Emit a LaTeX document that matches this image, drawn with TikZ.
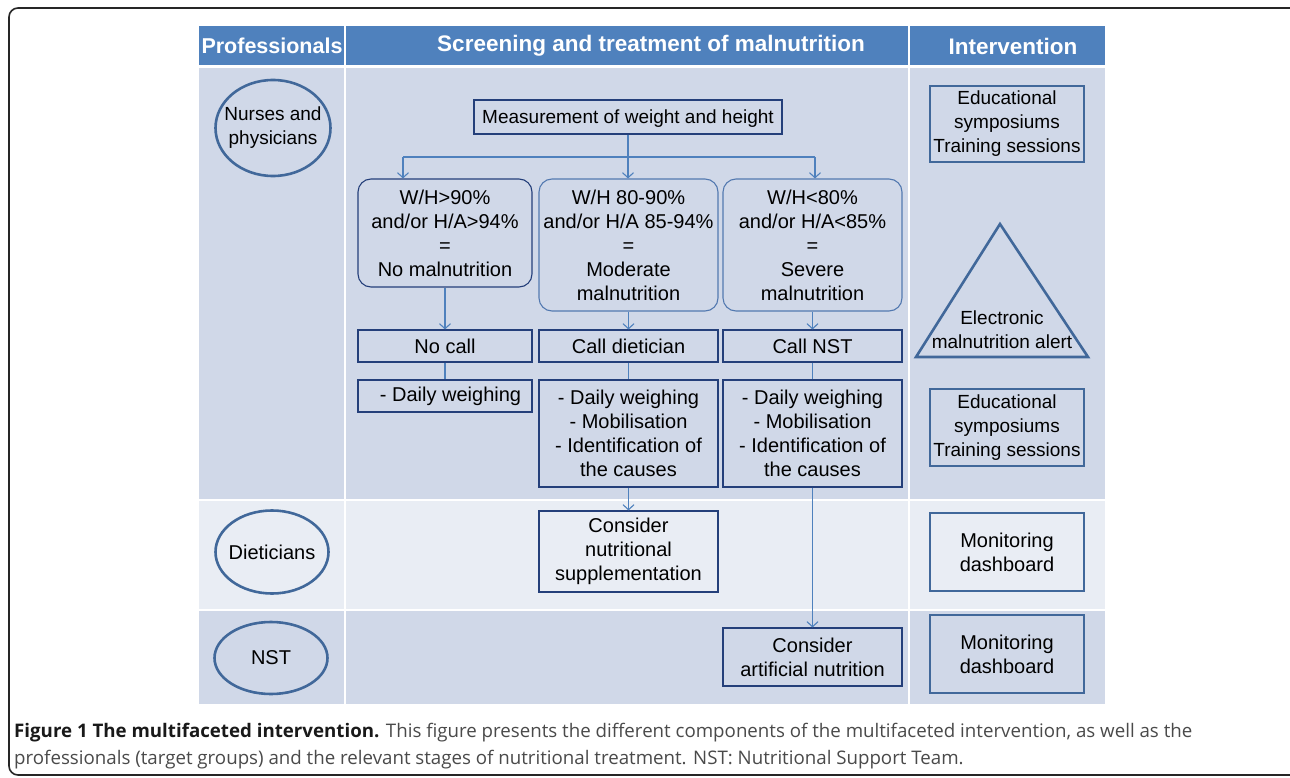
\documentclass[tikz,border=0pt]{standalone}
\usepackage{fontspec}
\setmainfont{Liberation Sans}
\newfontfamily\capfont{Open Sans}
\usetikzlibrary{shapes.geometric,arrows.meta}
\definecolor{hdr}{HTML}{4F81BD}
\definecolor{rowd}{HTML}{D0D8E8}
\definecolor{rowl}{HTML}{E9EDF4}
\definecolor{navy}{HTML}{243F7A}
\definecolor{lnav}{HTML}{5379B0}
\definecolor{arrc}{HTML}{4F81BD}
\definecolor{ibc}{HTML}{41689A}
\definecolor{capg}{HTML}{4A4A4A}
\tikzset{
  txt/.style={font=\fontsize{20}{24}\selectfont, align=center, inner sep=0pt},
  small/.style={font=\fontsize{19}{24}\selectfont},
  rbox/.style={txt, draw=navy, line width=1.1pt, rounded corners=13pt},
  lrbox/.style={txt, draw=lnav, line width=1.1pt, rounded corners=13pt},
  sbox/.style={txt, draw=navy, line width=1.1pt},
  ibox/.style={txt, draw=ibc, line width=2.6pt, minimum width=154pt},
  ell/.style={txt, ellipse, draw=ibc, line width=2.6pt, inner sep=0pt},
  arr/.style={draw=arrc, line width=1.1pt, -{Straight Barb[length=5pt,width=11pt,line width=1.1pt]}},
  lnk/.style={draw=arrc, line width=1.1pt},
  hd/.style={font=\fontsize{22.5}{24}\bfseries\selectfont, text=white, inner sep=0pt},
  capt/.style={anchor=base west, inner sep=0pt, font=\capfont\fontsize{18.7}{22}\selectfont, text=capg}
}
\begin{document}
\begin{tikzpicture}[x=1pt,y=-1pt]
\useasboundingbox (0,0) rectangle (1290,778);
\fill[white] (0,0) rectangle (1290,778);
% outer frame
\draw[line width=1.6pt, draw=black!85, rounded corners=9pt] (9,8) rectangle (1302,775);
% table cells
\fill[hdr] (199,26) rectangle (344,65);
\fill[hdr] (346,26) rectangle (908,65);
\fill[hdr] (910,26) rectangle (1105,65);
\fill[rowd] (199,68) rectangle (344,499);
\fill[rowd] (346,68) rectangle (908,499);
\fill[rowd] (910,68) rectangle (1105,499);
\fill[rowl] (199,501) rectangle (344,609);
\fill[rowl] (346,501) rectangle (908,609);
\fill[rowl] (910,501) rectangle (1105,609);
\fill[rowd] (199,611) rectangle (344,704);
\fill[rowd] (346,611) rectangle (908,704);
\fill[rowd] (910,611) rectangle (1105,704);
% headers
\node[hd, font=\fontsize{21.5}{24}\bfseries\selectfont] (h1) at (272,46) {Professionals};
\node[hd] (h2) at (651,46) {Screening and treatment of malnutrition};
\node[hd] (h3) at (1013,46) {Intervention};
% professionals
\node[ell, small, inner xsep=-9pt, minimum width=115pt, minimum height=96pt] (e1) at (273,128) {Nurses and\\physicians};
\node[ell, inner xsep=-5pt, minimum width=113pt, minimum height=83pt] (e2) at (272,552) {Dieticians};
\node[ell, minimum width=113pt, minimum height=72pt] (e3) at (271,658) {NST};
% flow
\node[sbox, small, minimum width=308pt, minimum height=34pt, text depth=1pt] (meas) at (628,117) {Measurement of weight and height};
\node[rbox, minimum width=174pt, minimum height=108pt] (c1) at (445,233) {W/H>90\%\\and/or H/A>94\%\\=\\No malnutrition};
\node[lrbox, minimum width=179pt, minimum height=132pt] (c2) at (628.5,245) {W/H 80-90\%\\and/or H/A 85-94\%\\=\\Moderate\\malnutrition};
\node[lrbox, minimum width=179pt, minimum height=132pt] (c3) at (812.5,245) {W/H<80\%\\and/or H/A<85\%\\=\\Severe\\malnutrition};
\node[sbox, minimum width=174pt, minimum height=32pt] (n1) at (445,346) {No call};
\node[sbox, minimum width=179pt, minimum height=32pt] (n2) at (628.5,346) {Call dietician};
\node[sbox, minimum width=179pt, minimum height=32pt] (n3) at (812.5,346) {Call NST};
\node[sbox, minimum width=174pt, minimum height=32pt] (d1) at (445,396) {\ \ - Daily weighing};
\node[sbox, minimum width=179pt, minimum height=107pt] (d2) at (628.5,433.5) {- Daily weighing\\- Mobilisation\\- Identification of\\the causes};
\node[sbox, minimum width=179pt, minimum height=107pt] (d3) at (812.5,433.5) {- Daily weighing\\- Mobilisation\\- Identification of\\the causes};
\node[sbox, minimum width=179pt, minimum height=81pt] (s1) at (628.5,551.5) {Consider\\nutritional\\supplementation};
\node[sbox, minimum width=179pt, minimum height=58pt] (s2) at (812.5,657) {Consider\\artificial nutrition};
% connectors
\coordinate (b1) at (403,157);
\coordinate (b3) at (815,157);
\draw[lnk] (b1) -- (b3);
\draw[lnk] (meas.south) -- (meas.south |- b1);
\draw[arr] (b1) -- (b1 |- c1.north);
\draw[arr] (meas.south |- b1) -- (meas.south |- c2.north);
\draw[arr] (b3) -- (b3 |- c3.north);
\draw[arr] (c1.south) -- (n1.north);
\draw[arr] (c2.south) -- (n2.north);
\draw[arr] (c3.south) -- (n3.north);
\draw[lnk] (n1.south) -- (d1.north);
\draw[lnk] (n2.south) -- (d2.north);
\draw[lnk] (n3.south) -- (d3.north);
\draw[arr] (d2.south) -- (s1.north);
\draw[arr] (d3.south) -- (s2.north);
% intervention
\node[ibox, small, minimum height=76pt] (i1) at (1007,124) {Educational\\symposiums\\Training sessions};
\coordinate (ta) at (1000,224);
\coordinate (tl) at (916,357);
\coordinate (tr) at (1088,357);
\draw[draw=ibc, line width=2.6pt, line join=miter] (ta) -- (tr) -- (tl) -- cycle;
\node[txt, small] (tt) at (1002,330) {Electronic\\malnutrition alert};
\node[ibox, small, minimum height=77pt] (i2) at (1007,427.5) {Educational\\symposiums\\Training sessions};
\node[ibox, minimum height=78pt] (i3) at (1007,552) {Monitoring\\dashboard};
\node[ibox, minimum height=78pt] (i4) at (1007,654) {Monitoring\\dashboard};
% caption
\node[capt] (cap1) at (14,737) {\textbf{\color{black!90}Figure 1 The multifaceted intervention.} This figure presents the different components of the multifaceted intervention, as well as the};
\node[capt] (cap2) at (14,764) {professionals (target groups) and the relevant stages of nutritional treatment. NST: Nutritional Support Team.};
\end{tikzpicture}
\end{document}
